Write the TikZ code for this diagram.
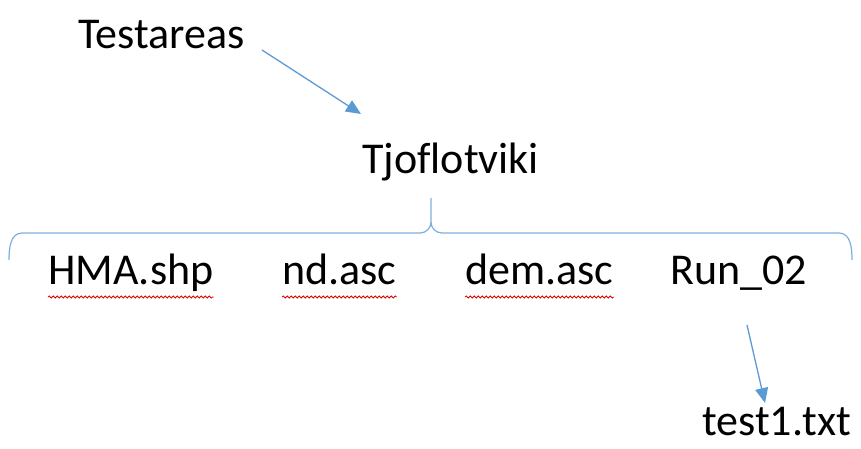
\documentclass[tikz,border=0pt]{standalone}
\usepackage{fontspec}
\setmainfont{Carlito}[Ligatures=NoCommon]
\usetikzlibrary{arrows.meta,decorations.pathmorphing}
\definecolor{officeblue}{RGB}{91,155,213}
\tikzset{
  label/.style={inner sep=0pt, font=\fontsize{44}{52}\selectfont},
  link/.style={officeblue, line width=1.3pt, -{Triangle[length=15pt,width=13pt]}},
  spell/.style={red!85!black, line width=0.8pt, decorate,
    decoration={snake, segment length=4pt, amplitude=1pt}}
}
\begin{document}
\begin{tikzpicture}[x=1pt,y=-1pt]
        \useasboundingbox (0,0) rectangle (861,448);
        % top of the tree
        \node[label, anchor=base west] (testareas) at (78,48) {Testareas};
        \node[label, anchor=base west] (tjo) at (362,173) {Tjoflotviki};
        \coordinate (a1start) at (262,50);
        \coordinate (a1end) at (361,114);
        \draw[link] (a1start) -- (a1end);
        % brace
        \draw[officeblue!80, line width=1.2pt]
            (9,260) to[out=90,in=180] (22,233) -- (420,233)
            to[out=0,in=270] (431,222) -- (431,198)
            (431,222) to[out=270,in=180] (442,233) -- (839,233)
            to[out=0,in=90] (852,260);
        % files
        \node[label, anchor=base west] (hma) at (48,284) {HMA.shp};
        \node[label, anchor=base west] (nd) at (282,284) {nd.asc};
        \node[label, anchor=base west] (dem) at (465,284) {dem.asc};
        \node[label, anchor=base west] (run) at (670,284) {Run\_02};
        \draw[spell] ([yshift=-13pt]hma.base west) -- ([yshift=-13pt]hma.base east);
        \draw[spell] ([yshift=-13pt]nd.base west) -- ([yshift=-13pt]nd.base east);
        \draw[spell] ([yshift=-13pt]dem.base west) -- ([yshift=-13pt]dem.base east);
        % run folder
        \node[label, anchor=base west] (test) at (702,435) {test1.txt};
        \coordinate (a2start) at (747,325);
        \coordinate (a2end) at (765,403);
        \draw[link] (a2start) -- (a2end);
    \end{tikzpicture}
\end{document}
